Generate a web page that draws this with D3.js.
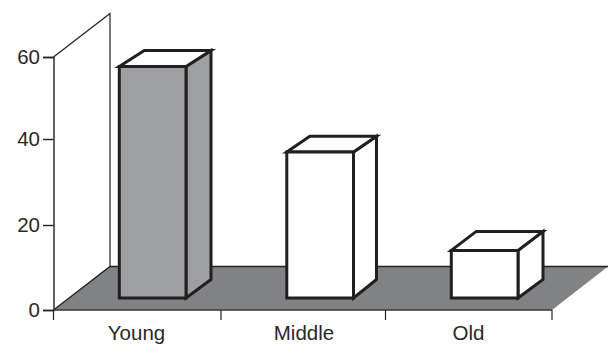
<!DOCTYPE html>
<html>
<head>
<meta charset="utf-8">
<script src="https://cdn.jsdelivr.net/npm/d3@7/dist/d3.min.js"></script>
<style>
  html, body { margin: 0; padding: 0; background: #fff; }
  svg { display: block; }
  text { font-family: "Liberation Sans", Arial, sans-serif; font-size: 20.5px; fill: #2b2829; }
</style>
</head>
<body>
<svg id="chart" width="608" height="344"></svg>
<script>
const categories = ["Young", "Middle", "Old"];
const values = [54.75, 34.2, 11.2];
const barFills = ["#9d9fa2", "#ffffff", "#ffffff"];
const yTicks = [0, 20, 40, 60];

const ink = "#231f20";
const svg = d3.select("#chart");

const y = d3.scaleLinear().domain(yTicks).range([310, 225, 139, 57]);
// Left edge of each category's slot along the floor's front edge
const x = d3.scaleOrdinal().domain(categories).range([53.5, 221, 385.5]);
const slot = 166;
const xEnd = 552;

// Oblique projection offsets for the wall and floor, and for each bar's depth
const wall = { dx: 56.5, dy: -43.5 };
const barShape = { width: 66.7, inset: 65.8, lift: 12, dyBottom: -18.5 };
const topRise = [-16, -15.7, -19];
const depthRun = [25, 23, 25];

const poly = pts => "M" + pts.map(p => p.join(",")).join("L") + "Z";
const x0 = x(categories[0]), yBase = y(0), yMax = y(60);

// Floor
svg.append("path")
  .attr("d", poly([[x0, yBase], [x0 + wall.dx, yBase + wall.dy], [608, yBase + wall.dy], [xEnd, yBase]]))
  .attr("fill", "#808285");
svg.append("path")
  .attr("d", `M${x0},${yBase}L${x0 + wall.dx},${yBase + wall.dy}L608,${yBase + wall.dy}`)
  .attr("fill", "none").attr("stroke", ink).attr("stroke-width", 1.3);

// Back wall outline
svg.append("path")
  .attr("d", `M${x0},${yMax}L${x0 + wall.dx},${yMax + wall.dy}V${yBase + wall.dy}`)
  .attr("fill", "none").attr("stroke", ink).attr("stroke-width", 1.2);

// Axes
const yAxis = d3.axisLeft(y).tickValues(yTicks).tickSize(10.5).tickPadding(3);
const yG = svg.append("g").attr("transform", `translate(${x0},0)`).call(yAxis);
yG.select(".domain").attr("stroke", ink).attr("stroke-width", 1.4);
yG.selectAll(".tick line").attr("stroke", ink).attr("stroke-width", 1.4);
yG.attr("font-size", null).attr("font-family", null);
yG.selectAll("text").attr("fill", null);

svg.append("line").attr("x1", x0).attr("x2", xEnd).attr("y1", yBase).attr("y2", yBase)
  .attr("stroke", "#3a3738").attr("stroke-width", 1.4);
const xEdges = [...categories.map(c => x(c)), xEnd];
svg.selectAll(".xtick").data(xEdges).join("line").attr("class", "xtick")
  .attr("x1", d => d).attr("x2", d => d).attr("y1", yBase).attr("y2", yBase + 10)
  .attr("stroke", ink).attr("stroke-width", 1.2);
svg.selectAll(".xlabel").data(categories).join("text").attr("class", "xlabel")
  .attr("x", d => x(d) + slot / 2).attr("y", 340)
  .attr("text-anchor", "middle").text(d => d);

// Bars: side, top and front faces
const g = svg.selectAll(".bar").data(categories).join("g").attr("class", "bar");
g.each(function (c, i) {
  const sel = d3.select(this);
  const l = x(c) + barShape.inset;
  const r = l + barShape.width;
  const b = yBase - barShape.lift;
  const t = b - (yBase - y(values[i]));
  const rise = topRise[i], run = depthRun[i];
  const face = (pts, fill) => sel.append("path").attr("d", poly(pts)).attr("fill", fill)
    .attr("stroke", ink).attr("stroke-width", 3).attr("stroke-linejoin", "miter");
  face([[r, b], [r + run, b + barShape.dyBottom], [r + run, t + rise], [r, t]], barFills[i]);
  face([[l, t], [l + run, t + rise], [r + run, t + rise], [r, t]], "#ffffff");
  face([[l, b], [l, t], [r, t], [r, b]], barFills[i]);
});
</script>
</body>
</html>
